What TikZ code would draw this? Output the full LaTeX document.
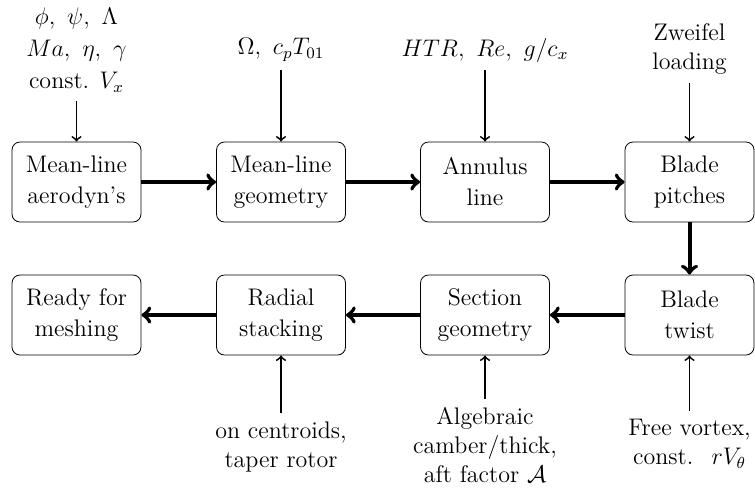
\documentclass[tikz,border=0pt,12pt]{standalone}
\begin{document}
\begin{tikzpicture}[x=0.5pt,y=-0.5pt,
  stage/.style={draw, rounded corners=4pt, minimum width=64.5pt, minimum height=40pt, align=center, inner sep=2pt},
  flow/.style={->, line width=2pt},
  feed/.style={->, line width=0.9pt},
  lbl/.style={align=center}]
\useasboundingbox (0,0) rectangle (755,495);
\node[stage] (a1) at (76.5,182) {Mean-line\\[1pt]aerodyn's};
\node[stage] (a2) at (281,182) {Mean-line\\[1pt]geometry};
\node[stage] (a3) at (485,182) {Annulus\\[1pt]line};
\node[stage] (a4) at (689.5,182) {Blade\\[1pt]pitches};
\node[stage] (b4) at (689.5,315) {Blade\\[1pt]twist};
\node[stage] (b3) at (485,315) {Section\\[1pt]geometry};
\node[stage] (b2) at (281,315) {Radial\\[1pt]stacking};
\node[stage] (b1) at (76.5,315) {Ready for\\[1pt]meshing};
\node[lbl] (i1) at (76.5,50) {$\phi,\ \psi,\ \Lambda$\\[1.5pt]$Ma,\ \eta,\ \gamma$\\[1.5pt]const. $V_x$};
\node[lbl] (i2) at (281,50) {$\Omega,\ c_pT_{01}$};
\node[lbl] (i3) at (485,50) {$HTR,\ Re,\ g/c_x$};
\node[lbl] (i4) at (689.5,49) {Zweifel\\loading};
\node[lbl] (o2) at (281,447) {on centroids,\\taper rotor};
\node[lbl] (o3) at (485,445) {Algebraic\\camber/thick,\\aft factor $\mathcal{A}$};
\node[lbl] (o4) at (689.5,444) {Free vortex,\\const. \ $rV_\theta$};
\draw[feed] (i1) -- (a1);
\draw[feed] (i2) -- (a2);
\draw[feed] (i3) -- (a3);
\draw[feed] (i4) -- (a4);
\draw[flow] (a1) -- (a2);
\draw[flow] (a2) -- (a3);
\draw[flow] (a3) -- (a4);
\draw[flow] (a4) -- (b4);
\draw[flow] (b4) -- (b3);
\draw[flow] (b3) -- (b2);
\draw[flow] (b2) -- (b1);
\draw[feed] (o2) -- (b2);
\draw[feed] (o3) -- (b3);
\draw[feed] (o4) -- (b4);
\end{tikzpicture}
\end{document}
